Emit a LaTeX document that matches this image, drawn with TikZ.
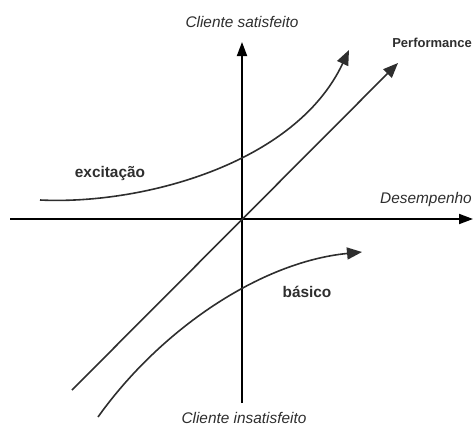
\documentclass[tikz,border=0pt]{standalone}
\usepackage{fontspec}
\setmainfont{Liberation Sans}
\usetikzlibrary{arrows.meta}
\definecolor{ink}{HTML}{2E2E2E}
\begin{document}
\begin{tikzpicture}[x=1pt,y=-1pt,
  axis/.style={line width=1.8pt,black,-{Triangle[length=14pt,width=10pt]}},
  curve/.style={line width=1.6pt,ink,-{Triangle[length=15pt,width=12pt]}},
  lbl/.style={font=\fontsize{15.4}{18}\selectfont\itshape,text=ink,inner sep=0pt},
  blbl/.style={font=\fontsize{15.4}{18}\selectfont\bfseries,text=ink,inner sep=0pt}]
\useasboundingbox (0,0) rectangle (473,428);
% axes
\coordinate (xs) at (10,219);
\coordinate (xe) at (473,219);
\coordinate (ys) at (242,403);
\coordinate (ye) at (242,42);
\draw[axis] (xs) -- (xe);
\draw[axis] (ys) -- (ye);
% performance
\coordinate (ps) at (72,390);
\coordinate (pe) at (398,63);
\draw[curve] (ps) -- (pe);
% excitacao
\coordinate (es) at (40,200);
\coordinate (ee) at (349,50);
\draw[curve] (es) .. controls (140,205) and (295,165) .. (ee);
% basico
\coordinate (bs) at (98,417);
\coordinate (be) at (362,252);
\draw[curve] (bs) .. controls (160,330) and (260,262) .. (be);
% labels
\node[lbl] (sat) at (242,22) {Cliente satisfeito};
\node[lbl] (insat) at (244,418) {Cliente insatisfeito};
\node[lbl,anchor=east] (des) at (472,200) {Desempenho};
\node[blbl,font=\fontsize{13}{15}\selectfont\bfseries,anchor=east] (perf) at (472,43) {Performance};
\node[blbl] (exc) at (110,174) {excitação};
\node[blbl] (bas) at (307,292) {básico};
\end{tikzpicture}
\end{document}
